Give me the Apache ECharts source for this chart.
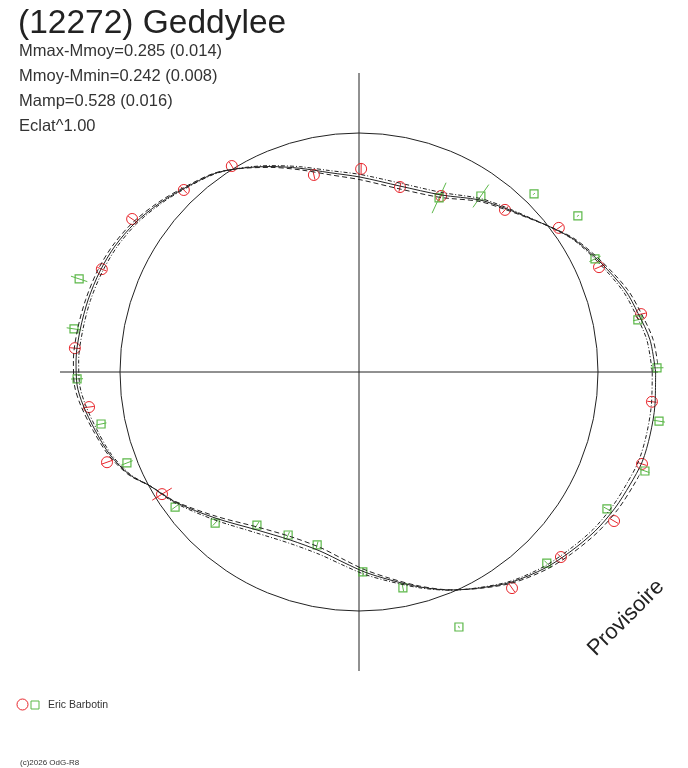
<!DOCTYPE html>
<html>
<head>
<meta charset="utf-8">
<script src="https://cdn.jsdelivr.net/npm/echarts@6/dist/echarts.min.js"></script>
<style>
  html, body { margin: 0; padding: 0; background: #fff; }
  #main { width: 688px; height: 768px; }
</style>
</head>
<body>
<div id="main"></div>
<script>
// fitted curve (phase angle in degrees, radius in units of the mean circle)
var curveAngle = [0, 6.3, 11.9, 17.1, 24.2, 31.4, 36.5, 42.0, 48.3, 54.9, 65.1, 77.6, 89.7, 98.3, 106.2,
  113.4, 120.3, 126.0, 133.4, 139.7, 146.4, 152.7, 158.7, 165.1, 171.4, 177.6, 182.6, 186.8, 192.4, 198.4,
  204.2, 208.6, 215.2, 225.4, 237.2, 247.7, 257.7, 265.8, 271.7, 278.5, 285.8, 292.7, 299.3, 306.1, 313.5,
  319.5, 326.0, 332.0, 337.4, 342.4, 347.8, 353.6, 360];
var curveR = [1.240, 1.224, 1.192, 1.164, 1.110, 1.058, 1.010, 0.961, 0.917, 0.879, 0.816, 0.796, 0.815, 0.842, 0.887,
  0.936, 0.986, 1.026, 1.059, 1.092, 1.125, 1.148, 1.162, 1.172, 1.179, 1.184, 1.180, 1.162, 1.130, 1.097,
  1.050, 0.995, 0.942, 0.857, 0.786, 0.759, 0.766, 0.801, 0.837, 0.879, 0.934, 0.988, 1.035, 1.086, 1.130,
  1.159, 1.190, 1.212, 1.227, 1.242, 1.245, 1.245, 1.240];
var curveRHi = [1.254, 1.237, 1.204, 1.174, 1.117, 1.062, 1.011, 0.959, 0.912, 0.872, 0.805, 0.784, 0.804, 0.833, 0.880,
  0.932, 0.985, 1.028, 1.063, 1.098, 1.133, 1.157, 1.172, 1.182, 1.190, 1.195, 1.191, 1.172, 1.138, 1.103,
  1.053, 0.995, 0.939, 0.848, 0.773, 0.745, 0.752, 0.789, 0.827, 0.872, 0.930, 0.987, 1.037, 1.091, 1.138,
  1.169, 1.201, 1.225, 1.241, 1.257, 1.260, 1.260, 1.254];
var curveRLo = [1.226, 1.211, 1.181, 1.154, 1.103, 1.055, 1.009, 0.963, 0.922, 0.886, 0.827, 0.808, 0.826, 0.851, 0.894,
  0.940, 0.987, 1.024, 1.056, 1.087, 1.118, 1.139, 1.152, 1.162, 1.168, 1.173, 1.169, 1.152, 1.122, 1.091,
  1.047, 0.995, 0.946, 0.866, 0.799, 0.773, 0.780, 0.813, 0.847, 0.886, 0.938, 0.989, 1.033, 1.081, 1.122,
  1.149, 1.179, 1.199, 1.213, 1.227, 1.230, 1.230, 1.226];

// observations, session 1 (red circles)
var redAngle = [11.6, 23.6, 35.8, 48.0, 65.0, 77.5, 89.4, 102.9, 121.7, 133.9, 146.0, 158.2, 175.2, 187.4,
  199.7, 211.8, 305.3, 317.5, 329.7, 342.0, 354.2];
var redR = [1.204, 1.095, 1.030, 0.912, 0.812, 0.792, 0.849, 0.845, 1.012, 1.056, 1.144, 1.158, 1.192, 1.138,
  1.119, 0.969, 1.107, 1.145, 1.235, 1.244, 1.231];
var redErr = [0.02, 0.02, 0.02, 0.02, 0.025, 0.02, 0.025, 0.02, 0.02, 0.02, 0.02, 0.02, 0.02, 0.02,
  0.025, 0.048, 0.02, 0.02, 0.02, 0.02, 0.02];

// observations, session 2 (green squares)
var greenAngle = [0.8, 10.6, 25.6, 35.5, 45.5, 55.3, 65.3, 161.6, 171.4, 181.4, 191.4, 201.4, 216.3, 226.4,
  236.3, 246.5, 256.4, 271.1, 281.5, 291.4, 314.5, 331.1, 340.9, 350.7];
var greenR = [1.246, 1.186, 1.094, 1.124, 1.044, 0.895, 0.801, 1.233, 1.205, 1.179, 1.100, 1.042, 0.954, 0.872,
  0.769, 0.743, 0.744, 0.836, 0.921, 1.145, 1.120, 1.184, 1.265, 1.271];
var greenErr = [0.027, 0.02, 0.026, 0.005, 0.005, 0.058, 0.07, 0.036, 0.031, 0.025, 0.023, 0.026, 0.018, 0.015,
  0.015, 0.015, 0.015, 0.018, 0.015, 0.005, 0.015, 0.015, 0.02, 0.025];

var statLines = ['Mmax-Mmoy=0.285 (0.014)', 'Mmoy-Mmin=0.242 (0.008)', 'Mamp=0.528 (0.016)', 'Eclat^1.00'];

var RED = '#e8262c';
var GREEN = '#5cb849';
var INK = '#222';
var FONT = '"Liberation Sans", Arial, sans-serif';

function zipPolar(rs, as) {
  return rs.map(function (r, i) { return [r, as[i]]; });
}
function zipObs(rs, as, es) {
  return rs.map(function (r, i) { return [r, as[i], es[i]]; });
}

function obsRenderer(color, shape) {
  return function (params, api) {
    var r = api.value(0), a = api.value(1), e = api.value(2);
    var p = api.coord([r, a]);
    var p0 = api.coord([r - e, a]);
    var p1 = api.coord([r + e, a]);
    var mark = shape === 'circle'
      ? { type: 'circle', shape: { cx: p[0], cy: p[1], r: 5.5 }, style: { fill: 'none', stroke: color, lineWidth: 1 } }
      : { type: 'rect', shape: { x: p[0] - 4, y: p[1] - 4, width: 8, height: 8 }, style: { fill: 'none', stroke: color, lineWidth: 1.2 } };
    return {
      type: 'group',
      children: [
        { type: 'line', shape: { x1: p0[0], y1: p0[1], x2: p1[0], y2: p1[1] }, style: { stroke: color, lineWidth: 1 } },
        mark
      ]
    };
  };
}

var chart = echarts.init(document.getElementById('main'), null, { renderer: 'canvas' });

var hidden = { show: false };

var graphics = [
  { type: 'text', left: 18, top: 7, style: { text: '(12272) Geddylee', font: '33.5px ' + FONT, fill: INK } }
];
statLines.forEach(function (t, i) {
  graphics.push({ type: 'text', left: 19, top: 43 + i * 25, style: { text: t, font: '16.5px ' + FONT, fill: '#333' } });
});
graphics.push(
  { type: 'text', x: 626, y: 618, rotation: Math.PI / 4,
    style: { text: 'Provisoire', font: '22px ' + FONT, fill: INK, align: 'center', verticalAlign: 'middle' } },
  { type: 'circle', shape: { cx: 22.5, cy: 704.5, r: 5.5 }, style: { fill: 'none', stroke: RED, lineWidth: 1 } },
  { type: 'rect', shape: { x: 31, y: 701, width: 8, height: 8 }, style: { fill: 'none', stroke: GREEN, lineWidth: 1 } },
  { type: 'text', left: 48, top: 700, style: { text: 'Eric Barbotin', font: '10.5px ' + FONT, fill: '#333' } },
  { type: 'text', left: 20, top: 759, style: { text: '(c)2026 OdG-R8', font: '8px ' + FONT, fill: '#333' } }
);

var option = {
  animation: false,
  backgroundColor: '#fff',
  polar: [
    { center: [359, 372], radius: 299 },
    { center: [359, 372], radius: 239 }
  ],
  angleAxis: [
    {
      polarIndex: 0, type: 'value', min: 0, max: 360, interval: 90,
      startAngle: 0, clockwise: false,
      axisLine: hidden, axisTick: hidden, axisLabel: hidden,
      splitLine: { show: true, lineStyle: { color: INK, width: 1 } }
    },
    {
      polarIndex: 1, type: 'value', min: 0, max: 360, interval: 90,
      startAngle: 0, clockwise: false,
      axisLine: { show: true, lineStyle: { color: INK, width: 1 } },
      axisTick: hidden, axisLabel: hidden, splitLine: hidden
    }
  ],
  radiusAxis: [
    { polarIndex: 0, type: 'value', min: 0, max: 1.25, axisLine: hidden, axisTick: hidden, axisLabel: hidden, splitLine: hidden },
    { polarIndex: 1, type: 'value', min: 0, max: 1, axisLine: hidden, axisTick: hidden, axisLabel: hidden, splitLine: hidden }
  ],
  graphic: graphics,
  series: [
    {
      name: 'fit', type: 'line', coordinateSystem: 'polar', polarIndex: 0,
      data: zipPolar(curveR, curveAngle), smooth: 0.3, showSymbol: false, clip: false,
      lineStyle: { color: INK, width: 1 }
    },
    {
      name: 'fit+', type: 'line', coordinateSystem: 'polar', polarIndex: 0,
      data: zipPolar(curveRHi, curveAngle), smooth: 0.3, showSymbol: false, clip: false,
      lineStyle: { color: INK, width: 1, type: [5, 3] }
    },
    {
      name: 'fit-', type: 'line', coordinateSystem: 'polar', polarIndex: 0,
      data: zipPolar(curveRLo, curveAngle), smooth: 0.3, showSymbol: false, clip: false,
      lineStyle: { color: INK, width: 1, type: [4, 2, 1, 2] }
    },
    {
      name: 'session1', type: 'custom', coordinateSystem: 'polar', polarIndex: 0,
      encode: { radius: 0, angle: 1 },
      data: zipObs(redR, redAngle, redErr),
      renderItem: obsRenderer(RED, 'circle')
    },
    {
      name: 'session2', type: 'custom', coordinateSystem: 'polar', polarIndex: 0,
      encode: { radius: 0, angle: 1 },
      data: zipObs(greenR, greenAngle, greenErr),
      renderItem: obsRenderer(GREEN, 'square')
    }
  ]
};

chart.setOption(option);
</script>
</body>
</html>
